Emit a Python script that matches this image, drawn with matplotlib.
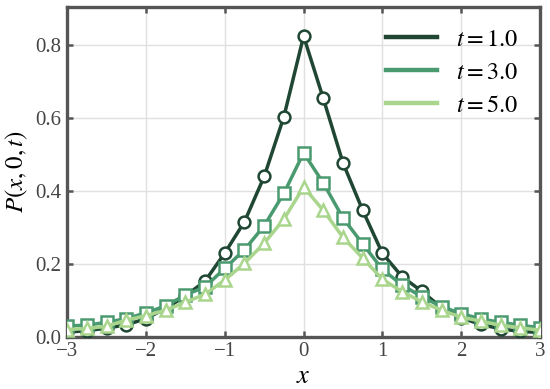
import numpy as np
import matplotlib
matplotlib.use("Agg")
import matplotlib.pyplot as plt

plt.rcParams['font.family'] = ['Liberation Serif', 'DejaVu Serif']
plt.rcParams['mathtext.fontset'] = 'stix'
plt.rcParams['axes.unicode_minus'] = True

# pontos em x (passo 0.25)
x = [-3.0, -2.75, -2.5, -2.25, -2.0, -1.75, -1.5, -1.25, -1.0, -0.75, -0.5, -0.25,
     0.0, 0.25, 0.5, 0.75, 1.0, 1.25, 1.5, 1.75, 2.0, 2.25, 2.5, 2.75, 3.0]

# P(x,0,t)
p_t1 = [0.013, 0.017, 0.024, 0.033, 0.050, 0.078, 0.112, 0.153, 0.230, 0.316, 0.440, 0.604,
        0.825, 0.654, 0.477, 0.347, 0.229, 0.165, 0.125, 0.080, 0.052, 0.034, 0.022, 0.015, 0.012]
p_t3 = [0.030, 0.032, 0.040, 0.050, 0.066, 0.085, 0.115, 0.137, 0.188, 0.239, 0.305, 0.394,
        0.505, 0.422, 0.326, 0.255, 0.185, 0.142, 0.110, 0.083, 0.064, 0.049, 0.040, 0.032, 0.025]
p_t5 = [0.020, 0.023, 0.029, 0.046, 0.058, 0.073, 0.095, 0.117, 0.156, 0.202, 0.257, 0.323,
        0.411, 0.347, 0.273, 0.216, 0.158, 0.124, 0.096, 0.073, 0.054, 0.043, 0.032, 0.025, 0.018]

labels = ['$t=1.0$', '$t=3.0$', '$t=5.0$']
cores = ['#1f4733', '#4a9a70', '#a9d68c']
marcadores = ['o', 's', '^']

fig = plt.figure(figsize=(5.5, 3.89), dpi=100)
ax = fig.add_axes([0.122, 0.134, 0.86, 0.848])

linhas = []
for serie, cor, m, lab in zip([p_t1, p_t3, p_t5], cores, marcadores, labels):
    ax.plot(x, serie, color=cor, lw=2.5, marker=m, markersize=8.5,
            markerfacecolor='white', markeredgecolor=cor, markeredgewidth=1.8,
            clip_on=True, zorder=3)
    l, = ax.plot([], [], color=cor, lw=3.2, label=lab)
    linhas.append(l)

ax.set_xlim(-3, 3)
ax.set_ylim(0, 0.905)
ax.set_xticks([-3, -2, -1, 0, 1, 2, 3])
ax.set_yticks([0.0, 0.2, 0.4, 0.6, 0.8])
ax.set_yticklabels(['0.0', '0.2', '0.4', '0.6', '0.8'])
ax.grid(True, color='#e0e0e0', lw=1.0, zorder=0)
ax.set_axisbelow(True)

for s in ax.spines.values():
    s.set_linewidth(2.4)
    s.set_color('#555555')
ax.tick_params(direction='in', length=4, width=1.8, color='#555555',
               top=True, right=True, labelsize=15, labelcolor='#444444', pad=4)

ax.set_xlabel('$x$', fontsize=19, labelpad=3)
ax.set_ylabel('$P(x,0,t)$', fontsize=18, labelpad=4)

ax.legend(handles=linhas, loc='upper right', frameon=False, fontsize=17.5,
          handlelength=2.1, handletextpad=0.8, labelspacing=0.45,
          borderaxespad=0.5)

fig.savefig('out.png', dpi=100)
